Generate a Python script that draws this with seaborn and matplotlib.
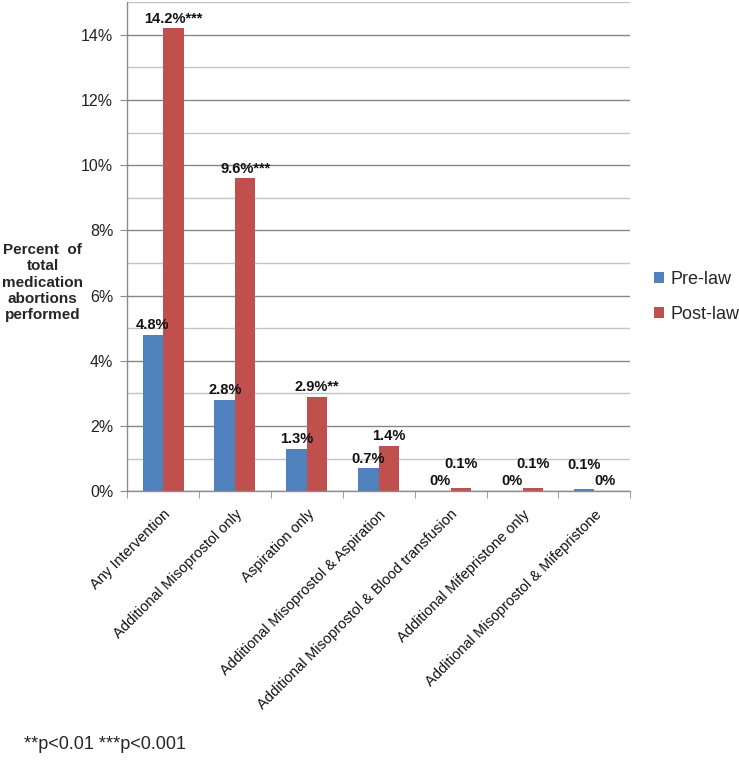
import pandas as pd
import numpy as np
import matplotlib.pyplot as plt
from matplotlib.ticker import MultipleLocator, PercentFormatter
import seaborn as sns

categories = ['Any Intervention', 'Additional Misoprostol only', 'Aspiration only',
              'Additional Misoprostol & Aspiration',
              'Additional Misoprostol & Blood transfusion',
              'Additional Mifepristone only',
              'Additional Misoprostol & Mifepristone']
pre_law = [4.8, 2.8, 1.3, 0.7, 0.0, 0.0, 0.08]
post_law = [14.2, 9.6, 2.9, 1.4, 0.1, 0.1, 0.0]
pre_labels = ['4.8%', '2.8%', '1.3%', '0.7%', '0%', '0%', '0.1%']
post_labels = ['14.2%***', '9.6%***', '2.9%**', '1.4%', '0.1%', '0.1%', '0%']
series = ['Pre-law', 'Post-law']
colors = ['#4F81BD', '#C0504D']

df = pd.DataFrame({
    'category': categories * 2,
    'value': pre_law + post_law,
    'period': [series[0]] * len(categories) + [series[1]] * len(categories),
})

sns.set_style('white')
plt.rcParams['font.family'] = ['Liberation Sans', 'DejaVu Sans']

fig = plt.figure(figsize=(7.39, 7.64), dpi=100)
ax = fig.add_axes([0.172, 0.357, 0.681, 0.640])

sns.barplot(data=df, x='category', y='value', hue='period', hue_order=series,
            palette=colors, width=0.57, gap=0, saturation=1, errorbar=None,
            edgecolor='none', legend=True, ax=ax)

# value labels above bars; when both bars of a group are ~0 the non-zero
# label is lifted so the two labels don't collide (like Excel does)
vals = [pre_law, post_law]
for k, (cont, labs) in enumerate(zip(ax.containers, [pre_labels, post_labels])):
    other = vals[1 - k]
    for i, (bar, lab) in enumerate(zip(cont, labs)):
        v = vals[k][i]
        lift = 12 if (v > 0 and max(v, other[i]) < 0.5) else 2
        ax.annotate(lab, (bar.get_x() + bar.get_width() / 2, bar.get_height()),
                    xytext=(0, lift), textcoords='offset points',
                    ha='center', va='bottom', fontsize=10.5, fontweight='bold',
                    color='#111111')

ax.set_ylim(0, 15)
ax.set_xlim(-0.5, len(categories) - 0.5)
ax.yaxis.set_major_locator(MultipleLocator(2))
ax.yaxis.set_minor_locator(MultipleLocator(1))
ax.yaxis.set_major_formatter(PercentFormatter(decimals=0))
ax.grid(axis='y', which='major', color='#878787', linewidth=1.0)
ax.grid(axis='y', which='minor', color='#c4c4c4', linewidth=1.0)
ax.set_axisbelow(True)

for s in ['top', 'right']:
    ax.spines[s].set_visible(False)
for s in ['left', 'bottom']:
    ax.spines[s].set_color('#8c8c8c')
    ax.spines[s].set_linewidth(1.0)

ax.tick_params(axis='y', which='major', left=True, length=5, color='#8c8c8c',
               labelsize=11.5, labelcolor='#222222', pad=5)
ax.tick_params(axis='y', which='minor', left=False)

# category ticks at boundaries, labels at centres
ax.set_xticks(np.arange(len(categories)))
ax.set_xticklabels(categories, rotation=45, ha='right', rotation_mode='anchor',
                   fontsize=10.5, color='#111111')
ax.tick_params(axis='x', which='major', bottom=False, pad=8)
ax.set_xticks(np.arange(len(categories) + 1) - 0.5, minor=True)
ax.tick_params(axis='x', which='minor', bottom=True, length=5, color='#8c8c8c')

ax.set_xlabel('')
ax.set_ylabel('')
fig.text(0.058, 0.630, 'Percent  of\ntotal\nmedication\nabortions\nperformed',
         ha='center', va='center', fontsize=11, fontweight='bold',
         linespacing=1.2)

ax.legend(loc='center left', bbox_to_anchor=(1.015, 0.397), frameon=False,
          fontsize=13, handlelength=0.55, handleheight=0.55, handletextpad=0.35,
          labelspacing=1.0)

fig.text(0.033, 0.025, '**p<0.01 ***p<0.001', fontsize=13, ha='left', va='center')

fig.savefig('out.png', dpi=100)
